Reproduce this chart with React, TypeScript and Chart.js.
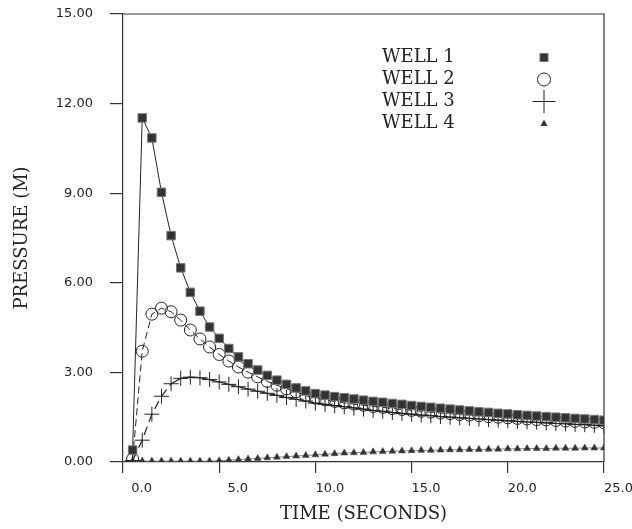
import React, { useEffect, useRef } from 'react';
import { Chart, registerables } from 'chart.js';

Chart.register(...registerables);

const TIMES = [
  0.5, 1.0, 1.5, 2.0, 2.5, 3.0, 3.5, 4.0, 4.5, 5.0,
  5.5, 6.0, 6.5, 7.0, 7.5, 8.0, 8.5, 9.0, 9.5, 10.0,
  10.5, 11.0, 11.5, 12.0, 12.5, 13.0, 13.5, 14.0, 14.5, 15.0,
  15.5, 16.0, 16.5, 17.0, 17.5, 18.0, 18.5, 19.0, 19.5, 20.0,
  20.5, 21.0, 21.5, 22.0, 22.5, 23.0, 23.5, 24.0, 24.5, 25.0,
];

const WELL_1 = [
  0.40, 11.52, 10.85, 9.03, 7.58, 6.50, 5.68, 5.05, 4.52, 4.14,
  3.80, 3.52, 3.29, 3.08, 2.90, 2.74, 2.60, 2.48, 2.38, 2.29,
  2.24, 2.19, 2.15, 2.11, 2.07, 2.03, 2.00, 1.96, 1.93, 1.89,
  1.86, 1.83, 1.80, 1.77, 1.74, 1.71, 1.68, 1.66, 1.63, 1.61,
  1.58, 1.56, 1.54, 1.52, 1.50, 1.48, 1.46, 1.44, 1.42, 1.40,
];

const WELL_2 = [
  0.10, 3.71, 4.95, 5.15, 5.03, 4.75, 4.42, 4.12, 3.85, 3.60,
  3.38, 3.18, 3.01, 2.85, 2.70, 2.57, 2.45, 2.35, 2.22, 2.14,
  2.08, 2.03, 1.98, 1.94, 1.90, 1.86, 1.83, 1.79, 1.76, 1.73,
  1.70, 1.67, 1.64, 1.62, 1.59, 1.57, 1.55, 1.52, 1.50, 1.48,
  1.46, 1.44, 1.42, 1.41, 1.39, 1.37, 1.36, 1.34, 1.33, 1.31,
];

const WELL_3 = [
  0.05, 0.73, 1.60, 2.20, 2.62, 2.80, 2.84, 2.82, 2.76, 2.68,
  2.60, 2.52, 2.44, 2.37, 2.30, 2.23, 2.16, 2.10, 2.04, 1.97,
  1.93, 1.89, 1.85, 1.81, 1.77, 1.73, 1.70, 1.66, 1.63, 1.60,
  1.57, 1.55, 1.52, 1.50, 1.48, 1.46, 1.44, 1.42, 1.40, 1.38,
  1.36, 1.34, 1.33, 1.31, 1.29, 1.28, 1.26, 1.25, 1.23, 1.21,
];

const WELL_4 = [
  0.03, 0.03, 0.03, 0.03, 0.03, 0.03, 0.03, 0.03, 0.03, 0.04,
  0.06, 0.08, 0.10, 0.12, 0.14, 0.16, 0.18, 0.20, 0.22, 0.24,
  0.26, 0.28, 0.30, 0.31, 0.32, 0.34, 0.35, 0.36, 0.37, 0.38,
  0.39, 0.39, 0.40, 0.41, 0.41, 0.42, 0.42, 0.43, 0.43, 0.44,
  0.44, 0.45, 0.45, 0.45, 0.46, 0.46, 0.46, 0.47, 0.47, 0.47,
];

const SERIES_LABELS = ['WELL 1', 'WELL 2', 'WELL 3', 'WELL 4'];
const X_TICKS = [0, 5, 10, 15, 20, 25];
const Y_TICKS = [0, 3, 6, 9, 12, 15];
const X_TITLE = 'TIME (SECONDS)';
const Y_TITLE = 'PRESSURE (M)';

const INK = '#222';
const AXIS = '#333';

const toPoints = (vals: number[]) => vals.map((v, i) => ({ x: TIMES[i], y: v }));

const framePlugin = {
  id: 'frame',
  beforeDatasetsDraw(chart: any) {
    const { ctx, chartArea } = chart;
    ctx.save();
    ctx.strokeStyle = AXIS;
    ctx.lineWidth = 1.2;
    ctx.beginPath();
    ctx.moveTo(chartArea.left, chartArea.top);
    ctx.lineTo(chartArea.right, chartArea.top);
    ctx.lineTo(chartArea.right, chartArea.bottom);
    ctx.stroke();
    ctx.restore();
  },
};

const legendPlugin = {
  id: 'wellLegend',
  afterDatasetsDraw(chart: any) {
    const { ctx, chartArea } = chart;
    ctx.save();
    ctx.font = '18px "DejaVu Serif"';
    ctx.fillStyle = INK;
    ctx.textBaseline = 'middle';
    ctx.textAlign = 'left';
    chart.data.datasets.forEach((ds: any, i: number) => {
      const y = chartArea.top + 43.5 + i * 22;
      ctx.fillText(ds.label, chartArea.left + 259, y);
      const mx = chartArea.left + 421;
      ctx.strokeStyle = INK;
      ctx.fillStyle = INK;
      ctx.lineWidth = 1;
      if (i === 0) {
        ctx.fillStyle = '#333';
        ctx.strokeStyle = '#777';
        ctx.fillRect(mx - 4, y - 4, 8, 8);
        ctx.strokeRect(mx - 4, y - 4, 8, 8);
      } else if (i === 1) {
        ctx.beginPath();
        ctx.arc(mx, y, 6.5, 0, Math.PI * 2);
        ctx.stroke();
      } else if (i === 2) {
        ctx.beginPath();
        ctx.moveTo(mx - 11.5, y);
        ctx.lineTo(mx + 11.5, y);
        ctx.moveTo(mx, y - 11.5);
        ctx.lineTo(mx, y + 11.5);
        ctx.stroke();
      } else {
        ctx.fillStyle = '#333';
        ctx.beginPath();
        ctx.moveTo(mx, y - 4);
        ctx.lineTo(mx + 3.5, y + 2.5);
        ctx.lineTo(mx - 3.5, y + 2.5);
        ctx.closePath();
        ctx.fill();
      }
      ctx.fillStyle = INK;
    });
    ctx.restore();
  },
};

export default function App() {
  const canvasRef = useRef<HTMLCanvasElement | null>(null);

  useEffect(() => {
    if (!canvasRef.current) return;
    const chart = new Chart(canvasRef.current, {
      type: 'line',
      data: {
        datasets: [
          {
            label: SERIES_LABELS[0],
            data: toPoints(WELL_1),
            borderColor: INK,
            borderWidth: 1,
            pointStyle: 'rect',
            pointRadius: 6,
            pointBackgroundColor: '#333',
            pointBorderColor: '#777',
            pointBorderWidth: 1,
            tension: 0,
          },
          {
            label: SERIES_LABELS[1],
            data: toPoints(WELL_2),
            borderColor: INK,
            borderWidth: 1,
            borderDash: [7, 4],
            pointStyle: 'circle',
            pointRadius: 6,
            pointBackgroundColor: 'rgba(255,255,255,0)',
            pointBorderColor: INK,
            pointBorderWidth: 1,
            tension: 0,
          },
          {
            label: SERIES_LABELS[2],
            data: toPoints(WELL_3),
            borderColor: INK,
            borderWidth: 1.2,
            segment: {
              borderDash: (c: any) => (c.p1DataIndex <= 4 ? [9, 5] : undefined),
            },
            pointStyle: 'cross',
            pointRadius: 7.5,
            pointBorderColor: INK,
            pointBorderWidth: 1,
            tension: 0,
          },
          {
            label: SERIES_LABELS[3],
            data: toPoints(WELL_4),
            borderColor: '#888',
            borderWidth: 1,
            pointStyle: 'triangle',
            pointRadius: 4,
            pointBackgroundColor: '#333',
            pointBorderColor: '#444',
            pointBorderWidth: 0.5,
            tension: 0,
          },
        ],
      },
      options: {
        animation: false,
        responsive: true,
        maintainAspectRatio: false,
        layout: { padding: { top: 14, right: 28, left: 0, bottom: 0 } },
        plugins: {
          legend: { display: false },
          tooltip: { enabled: false },
        },
        scales: {
          x: {
            type: 'linear',
            min: 0,
            max: 25,
            afterBuildTicks: (s: any) => {
              s.ticks = X_TICKS.map((v) => ({ value: v }));
            },
            afterFit: (s: any) => {
              s.height = 67;
              s.paddingLeft = 0;
              s.paddingRight = 0;
            },
            border: { display: true, color: AXIS, width: 1.2 },
            grid: {
              display: true,
              drawOnChartArea: false,
              drawTicks: true,
              tickLength: 11,
              color: AXIS,
              lineWidth: 1.2,
            },
            ticks: {
              align: 'start',
              padding: 8,
              color: INK,
              font: { family: 'DejaVu Sans', size: 13 },
              maxRotation: 0,
              autoSkip: false,
              callback: (v: any) => {
                const n = Number(v);
                return (n < 10 ? '\u2007' : '') + n.toFixed(1);
              },
            },
            title: {
              display: true,
              text: X_TITLE,
              color: INK,
              font: { family: 'DejaVu Serif', size: 18 },
              padding: { top: 0, bottom: 4 },
            },
          },
          y: {
            type: 'linear',
            min: 0,
            max: 15,
            afterBuildTicks: (s: any) => {
              s.ticks = Y_TICKS.map((v) => ({ value: v }));
            },
            afterFit: (s: any) => {
              s.width = 123;
              s.paddingTop = 0;
              s.paddingBottom = 0;
            },
            border: { display: true, color: AXIS, width: 1.2 },
            grid: {
              display: true,
              drawOnChartArea: false,
              drawTicks: true,
              tickLength: 13,
              color: AXIS,
              lineWidth: 1.2,
            },
            ticks: {
              padding: 17,
              color: INK,
              font: { family: 'DejaVu Sans', size: 13 },
              autoSkip: false,
              callback: (v: any) => Number(v).toFixed(2),
            },
            title: {
              display: true,
              text: Y_TITLE,
              color: INK,
              font: { family: 'DejaVu Serif', size: 18 },
              padding: { top: 12, bottom: 0 },
            },
          },
        },
      },
      plugins: [framePlugin, legendPlugin],
    } as any);
    return () => chart.destroy();
  }, []);

  return (
    <div
      style={{
        position: 'fixed',
        left: 0,
        top: 0,
        width: 632,
        height: 529,
        background: '#fff',
      }}
    >
      <canvas ref={canvasRef} />
    </div>
  );
}
